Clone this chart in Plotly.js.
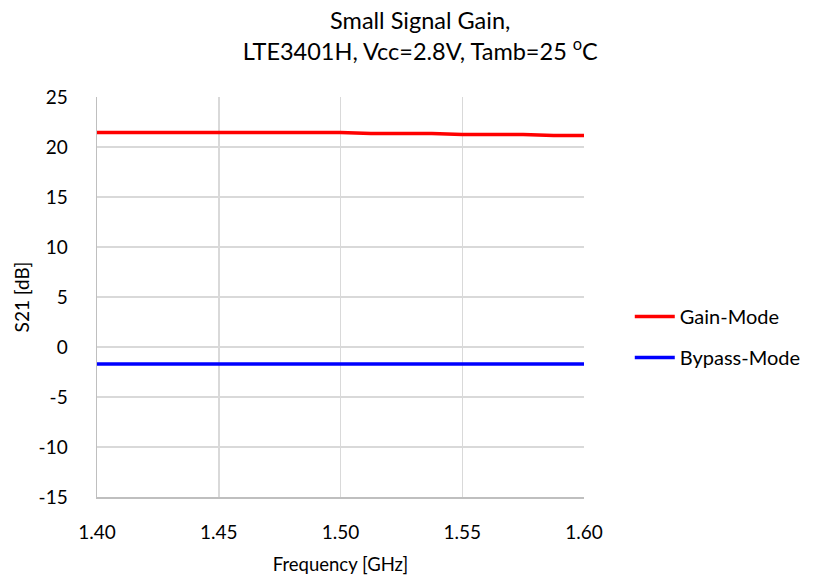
<!DOCTYPE html>
<html><head><meta charset="utf-8">
<script src="https://cdn.plot.ly/plotly-3.0.1.min.js"></script>
<style>html,body{margin:0;padding:0;background:#fff}#c{width:816px;height:582px}</style>
</head><body><div id="c"></div>
<script>
const freq = [1.40, 1.425, 1.45, 1.475, 1.50, 1.5125, 1.525, 1.5375, 1.55, 1.5625, 1.575, 1.5875, 1.60];
const gainMode = [21.45, 21.45, 21.45, 21.45, 21.45, 21.35, 21.35, 21.35, 21.25, 21.25, 21.25, 21.15, 21.15];
const bypassMode = [-1.7, -1.7, -1.7, -1.7, -1.7, -1.7, -1.7, -1.7, -1.7, -1.7, -1.7, -1.7, -1.7];
const xTicks = [1.40, 1.45, 1.50, 1.55, 1.60];
const xTickText = ["1.40", "1.45", "1.50", "1.55", "1.60"];
const yTicks = [-15, -10, -5, 0, 5, 10, 15, 20, 25];
const yTickText = ["-15", "-10", "-5", "0", "5", "10", "15", "20", "25"];

const F = "Lato, 'Open Sans', sans-serif";
const data = [
  {x: freq, y: gainMode, name: "Gain-Mode", legendgroup: "g", mode: "lines", line: {color: "#ff0000", width: 3.5}},
  {x: freq, y: bypassMode, name: "Bypass-Mode", legendgroup: "b", mode: "lines", line: {color: "#0000ff", width: 3.5}}
];
const layout = {
  width: 816, height: 582,
  margin: {l: 97, r: 232, t: 97, b: 85, autoexpand: false},
  paper_bgcolor: "#fff", plot_bgcolor: "#fff",
  font: {family: F, color: "#000", size: 19},
  title: {text: "Small Signal Gain,<br>LTE3401H, Vcc=2.8V, Tamb=25 <sup>o</sup>C", x: 0.515, xanchor: "center", y: 0.95, yanchor: "middle", font: {family: F, size: 23.5}},
  xaxis: {range: [1.40, 1.60], tickvals: xTicks, ticktext: xTickText, showgrid: true, gridcolor: "#d9d9d9", gridwidth: 1.5,
    showline: true, linecolor: "#bfbfbf", linewidth: 1.5, ticks: "", ticklabelstandoff: 18, zeroline: false,
    tickfont: {family: F, size: 19},
    title: {text: "Frequency [GHz]", font: {family: F, size: 18.5}, standoff: 16}},
  yaxis: {range: [-15, 25], tickvals: yTicks, ticktext: yTickText, showgrid: true, gridcolor: "#d9d9d9", gridwidth: 1.5,
    showline: true, linecolor: "#bfbfbf", linewidth: 1.5, zeroline: false, ticks: "", ticklabelstandoff: 24,
    tickfont: {family: F, size: 19},
    title: {text: "S21 [dB]", font: {family: F, size: 19}, standoff: 4}},
  legend: {x: 1.094, xanchor: "left", y: 0.4, yanchor: "middle", font: {family: F, size: 20}, itemwidth: 40, tracegroupgap: 12, traceorder: "grouped", bgcolor: "rgba(0,0,0,0)"},
  showlegend: true
};
Plotly.newPlot("c", data, layout, {displayModeBar: false, staticPlot: true});
</script></body></html>
